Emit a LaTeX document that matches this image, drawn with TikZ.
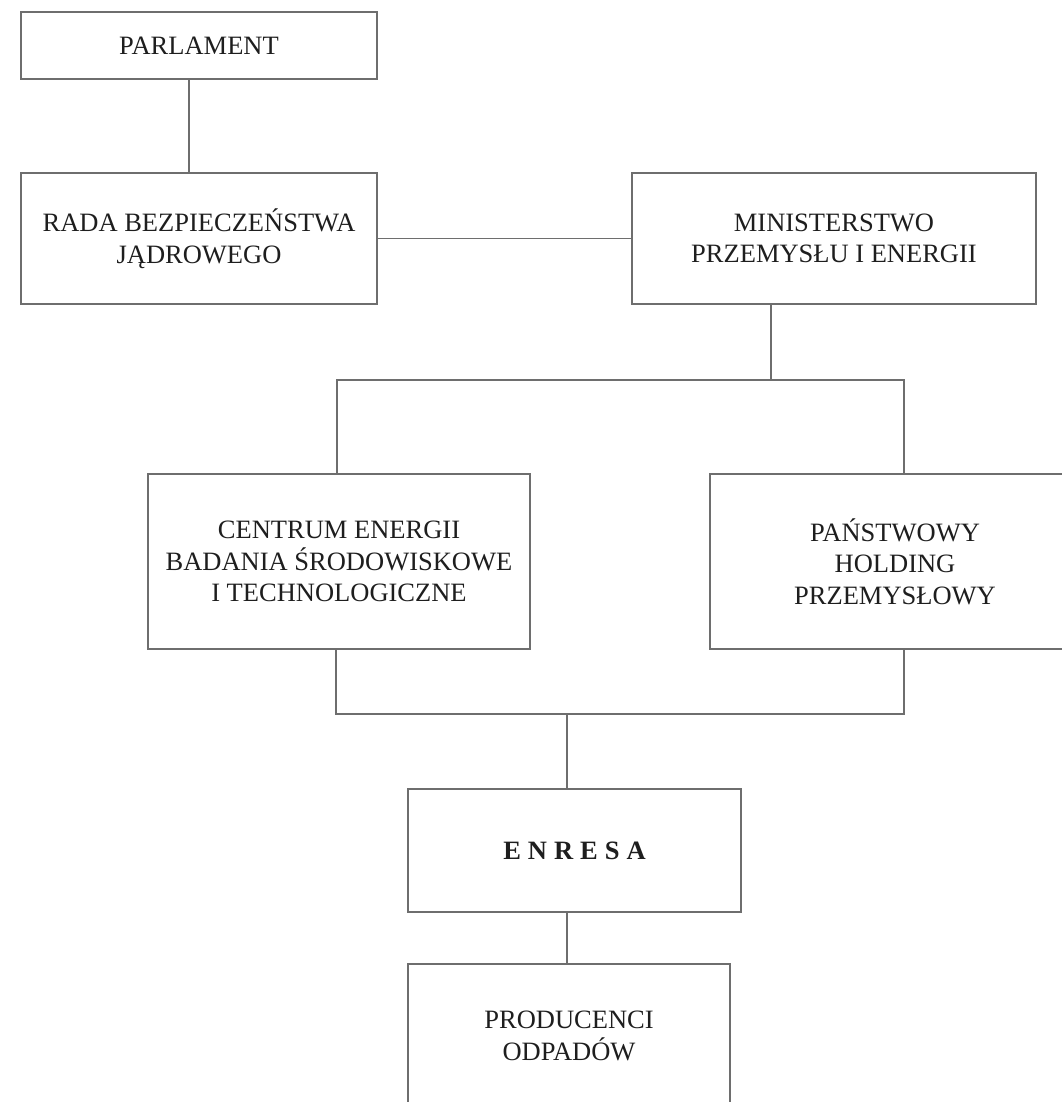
\documentclass[tikz,border=0pt]{standalone}
\usepackage{fontspec}
\setmainfont{Liberation Serif}
\definecolor{linec}{HTML}{6E6E6E}
\definecolor{textc}{HTML}{1E1E1E}
\begin{document}
\begin{tikzpicture}[x=1pt,y=-1pt,
  box/.style={draw=linec,line width=1.4pt,rectangle,inner sep=0pt,outer sep=0pt,
    align=center,text=textc,font=\fontsize{26.5pt}{31.5pt}\selectfont},
  conn/.style={draw=linec,line width=1.4pt}]
\useasboundingbox[fill=white] (0,0) rectangle (1061,1102);

\node[box,minimum width=356pt,minimum height=67pt] (parl) at (199,45.5) {PARLAMENT};
\node[box,minimum width=356pt,minimum height=131pt] (rada) at (199,238.5) {RADA BEZPIECZEŃSTWA\\JĄDROWEGO};
\node[box,minimum width=404pt,minimum height=131pt] (min) at (834,238.5) {MINISTERSTWO\\PRZEMYSŁU I ENERGII};
\node[box,minimum width=382pt,minimum height=175pt] (centrum) at (339,561.5) {CENTRUM ENERGII\\BADANIA ŚRODOWISKOWE\\I TECHNOLOGICZNE};
\node[box,minimum width=370pt,minimum height=175pt] (panst) at (895,561.5) {PAŃSTWOWY\\HOLDING\\PRZEMYSŁOWY};
\node[box,minimum width=333pt,minimum height=123pt] (enresa) at (574.5,850.5) {\textbf{E\hspace{7pt}N\hspace{7pt}R\hspace{7pt}E\hspace{7pt}S\hspace{7pt}A}};
\node[box,minimum width=322pt,minimum height=144pt] (prod) at (569,1036) {PRODUCENCI\\ODPADÓW};

\coordinate (pc) at (189,0);
\coordinate (jt) at (771,380);
\coordinate (tl) at (337,380);
\coordinate (tr) at (904,380);
\coordinate (bl) at (336,714);
\coordinate (br) at (904,714);
\coordinate (jb) at (567,714);

\draw[conn] (parl.south -| pc) -- (rada.north -| pc);
\draw[conn] (rada.east) -- (min.west);
\draw[conn] (min.south -| jt) -- (jt);
\draw[conn] (centrum.north -| tl) -- (tl) -- (tr) -- (panst.north -| tr);
\draw[conn] (centrum.south -| bl) -- (bl) -- (br) -- (panst.south -| br);
\draw[conn] (jb) -- (enresa.north -| jb);
\draw[conn] (enresa.south -| jb) -- (prod.north -| jb);
\end{tikzpicture}
\end{document}
